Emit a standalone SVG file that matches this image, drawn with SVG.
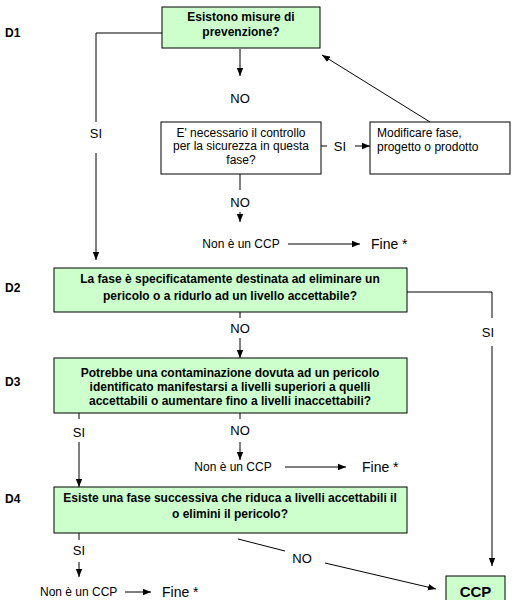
<svg xmlns="http://www.w3.org/2000/svg" width="513" height="600" viewBox="0 0 513 600">
<style>
.bx{fill:#ccffcc;stroke:#000;stroke-width:1}
.wb{fill:#fff;stroke:#000;stroke-width:1}
.bt{font-family:"Liberation Sans",Arial,sans-serif;font-size:12px;font-weight:bold;fill:#000;text-anchor:middle}
.lb{font-family:"Liberation Sans",Arial,sans-serif;font-size:12px;font-weight:bold;fill:#000}
.rt{font-family:"Liberation Sans",Arial,sans-serif;font-size:12px;fill:#000;text-anchor:middle}
.lt{font-family:"Liberation Sans",Arial,sans-serif;font-size:12px;fill:#000}
.yn{font-family:"Liberation Sans",Arial,sans-serif;font-size:13px;fill:#000;text-anchor:middle}
.fn{font-family:"Liberation Sans",Arial,sans-serif;font-size:14px;fill:#000}
.ln{fill:none;stroke:#000;stroke-width:1}
.ar{fill:none;stroke:#000;stroke-width:1;marker-end:url(#ah)}
</style>
<defs>
<marker id="ah" markerUnits="userSpaceOnUse" markerWidth="8" markerHeight="8" viewBox="0 0 8 8" refX="8" refY="4" orient="auto">
<path d="M0,0.8 L8,4 L0,7.2 Z" fill="#000"/>
</marker>
</defs>

<g id="labels">
<text class="lb" x="5" y="37">D1</text>
<text class="lb" x="5" y="292">D2</text>
<text class="lb" x="5" y="386">D3</text>
<text class="lb" x="5" y="503">D4</text>
</g>

<g id="d1">
<rect class="bx" x="162" y="7" width="158" height="41"/>
<text class="bt" x="241" y="21">Esistono misure di</text>
<text class="bt" x="241" y="36">prevenzione?</text>
</g>

<g id="controllo">
<rect class="wb" x="161" y="122" width="160" height="52"/>
<text class="rt" x="241" y="137">E' necessario il controllo</text>
<text class="rt" x="241" y="150">per la sicurezza in questa</text>
<text class="rt" x="241" y="164">fase?</text>
</g>

<g id="modificare">
<rect class="wb" x="370" y="122" width="140" height="52"/>
<text class="lt" x="377" y="137">Modificare fase,</text>
<text class="lt" x="377" y="151">progetto o prodotto</text>
</g>

<g id="d2">
<rect class="bx" x="54" y="268" width="353" height="44"/>
<text class="bt" x="230" y="283">La fase è specificatamente destinata ad eliminare un</text>
<text class="bt" x="230" y="300">pericolo o a ridurlo ad un livello accettabile?</text>
</g>

<g id="d3">
<rect class="bx" x="54" y="358" width="353" height="55"/>
<text class="bt" x="230" y="377">Potrebbe una contaminazione dovuta ad un pericolo</text>
<text class="bt" x="230" y="391">identificato manifestarsi a livelli superiori a quelli</text>
<text class="bt" x="230" y="405">accettabili o aumentare fino a livelli inaccettabili?</text>
</g>

<g id="d4">
<rect class="bx" x="54" y="487" width="353" height="46"/>
<text class="bt" x="230" y="502">Esiste una fase successiva che riduca a livelli accettabili il</text>
<text class="bt" x="230" y="518">o elimini il pericolo?</text>
</g>

<g id="ccp">
<rect class="bx" x="446" y="576" width="59" height="30"/>
<text class="bt" x="475.5" y="597" style="font-size:15px">CCP</text>
</g>

<g id="ends">
<text class="rt" x="241" y="248">Non è un CCP</text>
<text class="fn" x="371" y="249">Fine *</text>
<text class="rt" x="233" y="471">Non è un CCP</text>
<text class="fn" x="362" y="472">Fine *</text>
<text class="lt" x="40" y="596">Non è un CCP</text>
<text class="fn" x="162" y="597">Fine *</text>
</g>

<g id="connectors">
<polyline class="ln" points="162,33 96,33 96,122"/>
<text class="yn" x="96" y="138">SI</text>
<line class="ar" x1="96" y1="153" x2="96" y2="260"/>

<line class="ar" x1="240" y1="49" x2="240" y2="76"/>
<text class="yn" x="240" y="103">NO</text>

<line class="ln" x1="321" y1="146" x2="327" y2="146"/>
<text class="yn" x="340" y="151">SI</text>
<line class="ar" x1="355" y1="146" x2="370" y2="146"/>

<line class="ar" x1="430" y1="122" x2="322" y2="55"/>

<line class="ln" x1="240" y1="174" x2="240" y2="190"/>
<text class="yn" x="240" y="207">NO</text>
<line class="ar" x1="240" y1="212" x2="240" y2="222"/>

<line class="ar" x1="288" y1="244" x2="360" y2="244"/>

<polyline class="ln" points="407,292 492,292 492,318"/>
<text class="yn" x="488" y="337">SI</text>
<line class="ar" x1="492" y1="346" x2="492" y2="566"/>

<line class="ln" x1="240" y1="312" x2="240" y2="318"/>
<text class="yn" x="240" y="333">NO</text>
<line class="ar" x1="240" y1="338" x2="240" y2="358"/>

<line class="ln" x1="79" y1="413" x2="79" y2="419"/>
<text class="yn" x="79" y="437">SI</text>
<line class="ar" x1="79" y1="442" x2="79" y2="487"/>

<line class="ln" x1="240" y1="413" x2="240" y2="419"/>
<text class="yn" x="240" y="435">NO</text>
<line class="ar" x1="240" y1="442" x2="240" y2="460"/>

<line class="ar" x1="285" y1="467" x2="346" y2="467"/>

<line class="ln" x1="79" y1="533" x2="79" y2="540"/>
<text class="yn" x="79" y="555">SI</text>
<line class="ar" x1="79" y1="562" x2="79" y2="577"/>

<line class="ar" x1="125" y1="592" x2="151" y2="592"/>

<line class="ln" x1="238" y1="539" x2="285" y2="551"/>
<text class="yn" x="302" y="563">NO</text>
<line class="ar" x1="325" y1="563" x2="436" y2="589"/>
</g>
</svg>
